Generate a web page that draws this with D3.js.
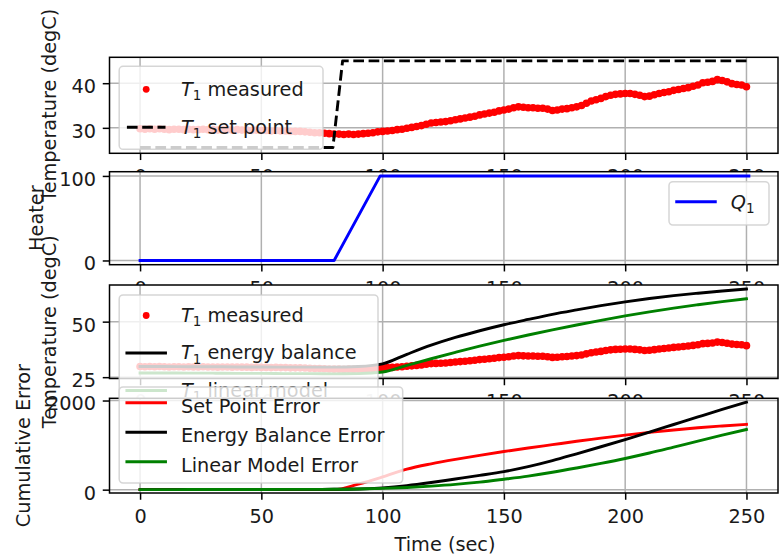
<!DOCTYPE html>
<html><head><meta charset="utf-8">
<script src="https://cdn.jsdelivr.net/npm/d3@7"></script>
<style>
html,body{margin:0;padding:0;background:#fff;}
svg{display:block;font-family:"DejaVu Sans",sans-serif;}
</style></head>
<body><svg id="chart" width="779" height="556"></svg>
<script>
// ---------------- data ----------------
const measTime = [0,2,4,6,8,10,12,14,16,18,20,22,24,26,28,30,32,34,36,38,40,42,44,46,48,50,52,54,56,58,
  60,62,64,66,68,70,72,74,76,78,80,82,84,86,88,90,92,94,96,98,100,102,104,106,108,110,112,114,116,118,
  120,122,124,126,128,130,132,134,136,138,140,142,144,146,148,150,152,154,156,158,160,162,164,166,168,170,172,174,176,178,
  180,182,184,186,188,190,192,194,196,198,200,202,204,206,208,210,212,214,216,218,220,222,224,226,228,230,232,234,236,238,
  240,242,244,246,248,250];
const measT1 = [29.8,29.7,29.8,29.7,29.8,29.7,29.6,29.7,29.7,29.6,
  29.7,29.6,29.6,29.7,29.6,29.6,29.5,29.6,29.6,29.5,
  29.6,29.5,29.5,29.4,29.5,29.4,29.4,29.3,29.4,29.3,
  29.3,29.2,29.2,29.2,29.1,29.0,28.9,28.9,28.8,28.7,
  28.6,28.6,28.5,28.6,28.5,28.6,28.7,28.8,28.9,29.1,
  29.2,29.3,29.4,29.6,29.7,29.9,30.1,30.3,30.5,30.8,
  31.1,31.2,31.3,31.4,31.6,31.8,32.0,32.2,32.4,32.6,
  32.9,33.1,33.3,33.5,33.8,34.0,34.2,34.5,34.7,34.6,
  34.5,34.5,34.4,34.4,34.2,33.9,34.0,34.2,34.3,34.5,
  34.7,35.0,35.5,36.0,36.3,36.6,37.0,37.3,37.5,37.6,
  37.7,37.7,37.5,37.3,37.0,37.1,37.4,37.7,37.9,38.1,
  38.4,38.6,38.8,39.0,39.3,39.6,40.1,40.2,40.4,40.8,
  40.6,40.3,39.9,39.7,39.6,39.2];
const spTime = [0, 79.5, 83.5, 250.5];
const spT1 = [25.6, 25.6, 45, 45];
const heaterTime = [0, 80, 99, 251];
const heaterQ1 = [0, 0, 100, 100];
const modelTime = [0,10,20,30,40,50,60,70,80,90,100,110,120,130,140,150,160,170,180,190,200,210,220,230,240,250];
const energyT1 = [29.8,29.8,29.7,29.7,29.6,29.6,29.5,29.5,29.5,29.8,31.0,35.3,39.4,42.9,45.9,48.6,51.0,53.3,55.3,57.2,58.9,60.4,61.7,62.8,63.8,64.7];
const linearT1 = [26.9,26.9,26.8,26.8,26.7,26.7,26.6,26.6,26.5,26.6,27.3,30.3,33.3,36.2,39.0,41.6,44.0,46.3,48.5,50.6,52.6,54.4,56.1,57.6,59.0,60.3];
const errSetPoint = [0,0,0,0,0,0,0,0,0,125,285,460,580,680,770,855,935,1010,1085,1155,1225,1285,1340,1390,1430,1465];
const errEnergy = [0,1,2,3,4,5,6,7,8,14,40,90,160,240,320,405,515,650,805,963,1125,1292,1462,1632,1800,1962];
const errLinear = [0,1,2,3,4,5,6,7,8,14,28,50,80,118,168,234,305,390,487,590,700,822,955,1090,1222,1350];
const xTickValues = [0,50,100,150,200,250];
const yTicksTemp1 = [30,40];
const yTicksHeater = [0,100];
const yTicksTemp2 = [25,50];
const yTicksError = [0,2000];
const yLabels = ["Temperature (degC)","Heater","Temperature (degC)","Cumulative Error"];
const xLabel = "Time (sec)";
const legend1Labels = ["$T_1$ measured","$T_1$ set point"];
const legend2Labels = ["$Q_1$"];
const legend3Labels = ["$T_1$ measured","$T_1$ energy balance","$T_1$ linear model"];
const legend4Labels = ["Set Point Error","Energy Balance Error","Linear Model Error"];

// ---------------- layout ----------------
const svg = d3.select('#chart');
svg.append('rect').attr('width',779).attr('height',556).attr('fill','#fff');
const AX_L = 109.5, AX_R = 778;
const FS = 19.3;
const LW = 2.9;
const TXT = '#1a1a1a';
const x = d3.scaleLinear().domain([-12.6, 263]).range([AX_L, AX_R]);

const panels = [
  {top:57.3, bottom:153.3, dom:[24.3,45.8], ticks:yTicksTemp1, labelX:56},
  {top:171.7, bottom:264.7, dom:[-5,105], ticks:yTicksHeater, labelX:42.5},
  {top:285, bottom:378.5, dom:[24.4,66.5], ticks:yTicksTemp2, labelX:56},
  {top:398.3, bottom:493, dom:[-75,2050], ticks:yTicksError, labelX:30}
];

function makePanel(i){
  const p = panels[i];
  const y = d3.scaleLinear().domain(p.dom).range([p.bottom, p.top]);
  const g = svg.append('g');
  g.append('rect').attr('x',AX_L).attr('y',p.top).attr('width',AX_R-AX_L).attr('height',p.bottom-p.top).attr('fill','#fff');
  const cid = 'clip'+i;
  g.append('clipPath').attr('id',cid).append('rect')
    .attr('x',AX_L).attr('y',p.top).attr('width',AX_R-AX_L).attr('height',p.bottom-p.top);
  g.append('g').selectAll('line').data(xTickValues).join('line')
    .attr('x1',d=>x(d)).attr('x2',d=>x(d)).attr('y1',p.top).attr('y2',p.bottom)
    .attr('stroke','#b0b0b0').attr('stroke-width',1.5);
  g.append('g').selectAll('line').data(p.ticks).join('line')
    .attr('x1',AX_L).attr('x2',AX_R).attr('y1',d=>y(d)).attr('y2',d=>y(d))
    .attr('stroke','#b0b0b0').attr('stroke-width',1.5);
  const xa = g.append('g').attr('transform',`translate(0,${p.bottom})`)
    .call(d3.axisBottom(x).tickValues(xTickValues).tickFormat(d3.format('d')).tickSize(6.75).tickPadding(9.5));
  const ya = g.append('g').attr('transform',`translate(${AX_L},0)`)
    .call(d3.axisLeft(y).tickValues(p.ticks).tickFormat(d3.format('d')).tickSize(6.75).tickPadding(6.75));
  [xa,ya].forEach(a=>{
    a.select('.domain').remove();
    a.attr('font-family','DejaVu Sans').attr('font-size',FS);
    a.selectAll('line').attr('stroke','#000').attr('stroke-width',1.5);
    a.selectAll('text').attr('fill',TXT);
  });
  ya.selectAll('text').attr('dy','0.49em');
  g.append('text').attr('transform',`translate(${p.labelX},${(p.top+p.bottom)/2}) rotate(-90)`)
    .attr('text-anchor','middle').attr('font-size',FS).attr('fill',TXT).text(yLabels[i]);
  const plot = g.append('g').attr('clip-path',`url(#${cid})`);
  return {g, y, plot, p};
}
function spines(P){
  P.g.append('rect').attr('x',AX_L).attr('y',P.p.top).attr('width',AX_R-AX_L).attr('height',P.p.bottom-P.p.top)
    .attr('fill','none').attr('stroke','#000').attr('stroke-width',1.5);
}
function addLabel(t, label, fs){
  const m = label.match(/^\$(\w)_(\w)\$(.*)$/);
  if(m){
    t.append('tspan').attr('font-style','italic').text(m[1]);
    t.append('tspan').attr('font-size',fs*0.7).attr('dy',4.5).text(m[2]);
    if(m[3]) t.append('tspan').attr('dy',-4.5).text(m[3]);
  } else t.text(label);
}
function legend(g, L){
  const lg = g.append('g');
  lg.append('rect').attr('x',L.x).attr('y',L.y).attr('width',L.w).attr('height',L.h)
    .attr('rx',3.9).attr('fill','#fff').attr('fill-opacity',0.8)
    .attr('stroke','#cccccc').attr('stroke-opacity',0.8).attr('stroke-width',1.5);
  const hx0 = L.x + 7.7, hx1 = hx0 + 38.6;
  L.rows.forEach(r=>{
    if(r.kind==='dot'){
      lg.append('circle').attr('cx',(hx0+hx1)/2).attr('cy',r.hy).attr('r',3.4).attr('fill',r.color);
    } else {
      const ln = lg.append('line').attr('x1',hx0).attr('x2',hx1).attr('y1',r.hy).attr('y2',r.hy)
        .attr('stroke',r.color).attr('stroke-width',LW);
      if(r.kind==='dash') ln.attr('stroke-dasharray','10.7,4.6');
      else ln.attr('stroke-linecap','square');
    }
    const t = lg.append('text').attr('x',hx1+15.4).attr('y',r.by).attr('font-size',FS).attr('fill',TXT);
    addLabel(t, r.label, FS);
  });
}
const dotLayer = (P, xs, ys) => P.plot.append('g').selectAll('circle').data(xs).join('circle')
  .attr('cx',d=>x(d)).attr('cy',(d,i)=>P.y(ys[i])).attr('r',3.8).attr('fill','#ff0000');
const lineLayer = (P, xs, ys, color, dash, curve) => {
  const path = P.plot.append('path').datum(xs.map((d,i)=>[d,ys[i]]))
    .attr('d', d3.line().x(d=>x(d[0])).y(d=>P.y(d[1])).curve(curve||d3.curveLinear))
    .attr('fill','none').attr('stroke',color).attr('stroke-width',LW).attr('stroke-linejoin','round');
  if(dash) path.attr('stroke-dasharray','10.7,4.6');
  else path.attr('stroke-linecap','square');
  return path;
};

// ---------------- panel 1 ----------------
const P1 = makePanel(0);
dotLayer(P1, measTime, measT1);
lineLayer(P1, spTime, spT1, '#000', true);
spines(P1);
legend(P1.g, {x:119.2, y:66.3, w:203.8, h:83, rows:[
  {kind:'dot', color:'#ff0000', label:legend1Labels[0], hy:89.3, by:95.5},
  {kind:'dash', color:'#000', label:legend1Labels[1], hy:127.3, by:133.5}]});

// ---------------- panel 2 ----------------
const P2 = makePanel(1);
lineLayer(P2, heaterTime, heaterQ1, '#0000ff', false);
spines(P2);
legend(P2.g, {x:669, y:181.7, w:100, h:43.3, rows:[
  {kind:'line', color:'#0000ff', label:legend2Labels[0], hy:201.7, by:208.7}]});

// ---------------- panel 3 ----------------
const P3 = makePanel(2);
dotLayer(P3, measTime, measT1);
lineLayer(P3, modelTime, energyT1, '#000', false, d3.curveMonotoneX);
lineLayer(P3, modelTime, linearT1, '#008000', false, d3.curveMonotoneX);
spines(P3);
legend(P3.g, {x:119.2, y:295, w:258.8, h:118, rows:[
  {kind:'dot', color:'#ff0000', label:legend3Labels[0], hy:315.5, by:321.5},
  {kind:'line', color:'#000', label:legend3Labels[1], hy:353, by:359},
  {kind:'line', color:'#008000', label:legend3Labels[2], hy:390.5, by:396.5}]});

// ---------------- panel 4 ----------------
const P4 = makePanel(3);
lineLayer(P4, modelTime, errSetPoint, '#ff0000', false, d3.curveMonotoneX);
lineLayer(P4, modelTime, errEnergy, '#000', false, d3.curveMonotoneX);
lineLayer(P4, modelTime, errLinear, '#008000', false, d3.curveMonotoneX);
spines(P4);
legend(P4.g, {x:119.2, y:387, w:283.5, h:96, rows:[
  {kind:'line', color:'#ff0000', label:legend4Labels[0], hy:402.7, by:412.7},
  {kind:'line', color:'#000', label:legend4Labels[1], hy:432.2, by:442.2},
  {kind:'line', color:'#008000', label:legend4Labels[2], hy:461.7, by:471.7}]});

svg.append('text').attr('x',445).attr('y',551).attr('text-anchor','middle')
  .attr('font-size',FS).attr('fill',TXT).text(xLabel);
</script>
</body></html>
